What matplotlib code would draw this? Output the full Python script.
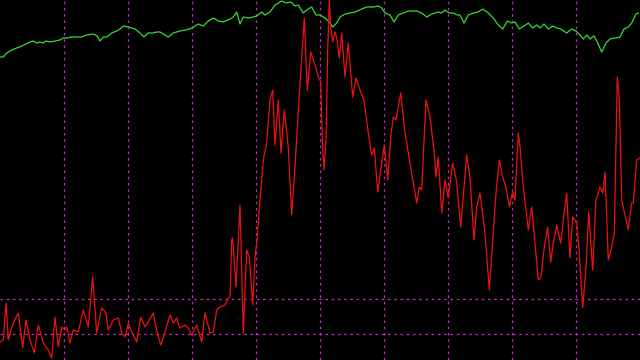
import numpy as np
import matplotlib as mpl
mpl.use('Agg')
import matplotlib.pyplot as plt

DPI = 100

# red series: bar position / level
red_x = [0, 3.3, 6, 8.3, 13.3, 18.3, 22.7, 26, 30, 34.3, 38.3, 43.3, 48.3, 51.7, 55, 58.3,
         61.7, 65, 66.7, 70, 73.3, 78.3, 83.3, 88.3, 92.7, 96.7, 101.7, 106, 108.3, 113.3,
         118.3, 121.7, 125, 128.3, 131.7, 136.7, 140.7, 145, 153.3, 156.7, 160.7, 165, 170,
         173.3, 176.7, 180, 185, 188.3, 191.7, 196.7, 201.7, 205, 210, 213.3, 216.7, 220,
         225, 228.3, 230, 231.7, 232.7, 236, 240, 243.3, 246.7, 249.3, 252.7, 255, 257.3,
         260, 263.3, 266.7, 270, 272.7, 275, 278.3, 281, 284.3, 288.3, 291.7, 295, 300,
         304.3, 307.3, 310.7, 315, 318.3, 320.7, 322.3, 324, 326, 327.7, 329.3, 330.7, 332.7,
         335, 336.7, 339.3, 341.7, 345, 348.3, 352.7, 356, 360, 364, 368.3, 371.7, 374.3,
         377.7, 381.7,
         384.3, 387.7, 390.7, 393.3, 396, 400.7, 405, 410, 416.7, 419.3, 421.7, 426, 430,
         434.3, 436, 438.3, 441.7, 445, 448.3, 452.7, 456.7, 460.7, 466.7, 470, 474, 476.7,
         480, 485, 489.3, 492.7, 496, 499.3, 502.7, 506, 509.3, 512.7, 515, 518.3, 520,
         523.3, 528.3, 531.7, 535, 538.3, 541, 544.3, 547.7, 550.7, 553.3, 556.7, 560.7,
         563.3, 566.7, 570, 572.7, 576.7, 579.3, 582.7, 586, 588.7, 592.7, 596, 600, 602.7,
         605, 608.3, 611.7, 614.3, 617.3, 619.3, 621.7, 628.3, 631.7, 633.3, 636.7, 640]
red_py = [342, 340, 303, 340, 323, 313, 348, 320, 340, 353, 325, 343, 350, 358, 317, 347,
          327, 330, 327, 343, 330, 332, 310, 327, 277, 333, 308, 313, 330, 320,
          318, 333, 337, 323, 332, 342, 317, 327, 313, 330, 345, 332, 315,
          323, 318, 328, 325, 328, 335, 325, 342, 313, 333, 332, 310, 307,
          305, 298, 297, 240, 238, 287, 205, 333, 250, 257, 305, 257, 237,
          200, 160, 143, 100, 90, 145, 100, 153, 110, 147, 215, 167, 83,
          18, 90, 52, 65, 77, 82, 140, 170, 140, 50, 0, 27, 42,
          32, 38, 58, 33, 77, 43, 97, 78, 90, 100, 133, 155, 148,
          192, 163,
          145, 180, 137, 117, 120, 93, 133, 163, 203, 187, 190, 100, 117,
          153, 177, 157, 213, 180, 198, 163, 182, 227, 155, 177, 240, 207,
          193, 233, 290, 240, 193, 160, 177, 187, 207, 192, 200, 133, 147,
          187, 230, 207, 243, 280, 277, 247, 227, 262, 243, 225, 243,
          220, 193, 258, 217, 223, 253, 308, 267, 212, 270, 200, 187, 193,
          172, 260, 247, 233, 77, 98, 200, 230, 203, 203, 160, 158]

# green series
green_x = [0, 3.3, 6.7, 11.7, 16.7, 21.7, 26, 30, 33.3, 36.7, 40, 43.3, 45.7, 50, 55, 60,
           63.3, 66.7, 71.7, 76, 81.7, 86.7, 93.3, 97.3, 100, 103.3, 106.7, 111.7, 116.7,
           120, 123.3, 128.3, 135, 140, 144, 148.3, 152.7, 156.7, 160, 168.3, 173.3, 180,
           185, 190, 193.3, 198.3, 203.3, 208.3, 213.3, 218.3, 223.3, 230, 233.3, 236.7,
           240, 243.3, 248.3, 253.3, 256.7, 261.7, 265, 270, 275, 281.7, 286, 290.7, 295,
           298.3, 303.3, 306.7, 311.7, 316, 320, 325, 329.3, 332.7, 336.7, 340, 345,
           350, 355, 361.7, 366.7, 373.3, 378.3, 381.7, 385, 390, 394, 398.3, 403.3, 408.3,
           416.7, 421.7, 426.7, 431.7, 435, 438.3, 441.7, 445, 449.3, 453.3, 457.3, 460,
           464, 468.3, 473.3, 478.3, 482.7, 488.3, 493.3, 498.3, 502.7, 507.3, 511.7, 515,
           519.3, 524, 528.3, 532.7, 536.7, 540, 544, 548.3, 552.7, 556.7, 560.7, 566.7,
           571.7, 576, 580, 583.3, 586.7, 590, 594, 597.3, 601.7, 606, 610, 615, 620, 624,
           628.3, 631.7, 636, 638.3]
green_py = [57, 57, 53, 50, 48, 46, 44, 42, 41, 43, 42, 43, 41, 42, 41, 40,
            38, 38, 37, 37, 37, 35, 34, 36, 41, 37, 37, 33, 31,
            29, 26, 27, 29, 33, 37, 33, 33, 32, 32, 37, 33, 31,
            30, 29, 27, 24, 26, 21, 18, 21, 22, 19, 17, 12,
            24, 17, 18, 17, 16, 12, 15, 12, 5, 1, 3, 2, 6,
            5, 13, 10, 7, 15, 15, 18, 22, 27, 23, 17, 14,
            13, 12, 9, 7, 7, 6, 8, 13, 15, 22, 15, 13, 11,
            11, 13, 17, 14, 13, 12, 13, 10, 13, 13, 15, 15,
            23, 15, 13, 12, 9, 13, 18, 25, 29, 21, 23, 22,
            29, 26, 23, 28, 25, 28, 24, 29, 26, 28, 29, 33,
            29, 31, 35, 39, 35, 39, 36, 42, 52, 43, 39, 38, 37, 29,
            27, 23, 14, 13]

H = 360
red_y = [H - v for v in red_py]
green_y = [H - v for v in green_py]

vgrid = [64, 128, 192, 256, 320, 384, 448, 512, 576]
hgrid = [H - 299, H - 334]

fig = plt.figure(figsize=(640/DPI, 360/DPI), dpi=DPI, facecolor='black')
ax = fig.add_axes([0, 0, 1, 1])
ax.set_facecolor('black')
ax.set_xlim(0, 640)
ax.set_ylim(0, H)

grid_kw = dict(color='#c030c0', linewidth=0.9, linestyle=(0, (2, 3)), zorder=1)
for gx in vgrid:
    ax.axvline(gx, **grid_kw)
for gy in hgrid:
    ax.axhline(gy, **grid_kw)

ax.plot(green_x, green_y, color='#33dd33', linewidth=0.9, zorder=2)
ax.plot(red_x, red_y, color='#ee1111', linewidth=0.9, zorder=3)

ax.set_xticks([])
ax.set_yticks([])
for s in ax.spines.values():
    s.set_visible(False)

fig.savefig('out.png', dpi=DPI, facecolor='black')
